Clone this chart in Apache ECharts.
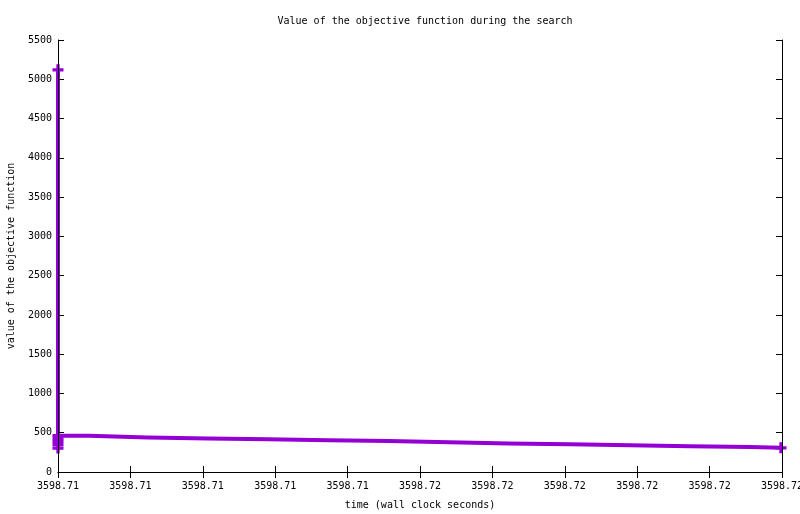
<!DOCTYPE html>
<html>
<head>
<meta charset="utf-8">
<script src="https://cdn.jsdelivr.net/npm/echarts@6/dist/echarts.min.js"></script>
<style>html,body{margin:0;padding:0;background:#fff}#c{width:800px;height:514px}</style>
</head>
<body>
<div id="c"></div>
<script>
// Step series: time (wall clock seconds) and objective value
var stepTimes = [3598.71250, 3598.71250, 3598.71250, 3598.712714, 3598.713122, 3598.713536, 3598.71395, 3598.714365,
                 3598.714786, 3598.7152, 3598.715615, 3598.716036, 3598.71645, 3598.716865, 3598.71728, 3598.717493];
var stepValues = [5120, 300, 462, 440, 428, 416, 404, 396, 379, 362, 352, 340, 327, 318, 308, 308];
// Marked points (plus symbols)
var pointTimes = [3598.71250, 3598.71250, 3598.71250, 3598.71250, 3598.71250, 3598.71250, 3598.717493];
var pointValues = [5120, 462, 425, 390, 350, 305, 308];
// Axes
var xMin = 3598.7125, xMax = 3598.7175, xInterval = 0.0005;
var xTickLabels = ['3598.71','3598.71','3598.71','3598.71','3598.71','3598.72','3598.72','3598.72','3598.72','3598.72','3598.72'];
var yMin = 0, yMax = 5500, yInterval = 500;
var titleText = 'Value of the objective function during the search';
var xName = 'time (wall clock seconds)';
var yName = 'value of the objective function';

var FONT = 'DejaVu Sans Mono';
var color = '#9400D3';
function xLabel(v) {
  var i = Math.round((v - xMin) / xInterval);
  return xTickLabels[i] !== undefined ? xTickLabels[i] : '';
}
function yLabel(v) { return String(Math.round(v)); }
var lineData = stepTimes.map(function (t, i) { return [t, stepValues[i]]; });
var ptData = pointTimes.map(function (t, i) { return [t, pointValues[i]]; });
var plus = 'path://M3.5,0H6.5V3.5H10V6.5H6.5V10H3.5V6.5H0V3.5H3.5Z';

var chart = echarts.init(document.getElementById('c'), null, {renderer: 'canvas'});
var axisCommon = {
  axisLine: {show: true, lineStyle: {color: '#000', width: 1}},
  axisTick: {show: true, inside: true, length: 6, lineStyle: {color: '#000', width: 1}},
  splitLine: {show: false}
};
chart.setOption({
  animation: false,
  backgroundColor: '#fff',
  title: {
    text: titleText, left: 420, top: 11, textAlign: 'center',
    textStyle: {fontFamily: FONT, fontSize: 10, fontWeight: 'normal', color: '#000'}
  },
  grid: {left: 58, right: 18, top: 40, bottom: 42, containLabel: false, outerBoundsMode: 'none'},
  xAxis: [
    Object.assign({
      type: 'value', min: xMin, max: xMax, interval: xInterval, position: 'bottom',
      name: xName, nameLocation: 'middle', nameGap: 28,
      nameTextStyle: {fontFamily: FONT, fontSize: 10, color: '#000'},
      axisLabel: {fontFamily: FONT, fontSize: 10, color: '#000', margin: 9, formatter: xLabel, showMaxLabel: true, showMinLabel: true, hideOverlap: false}
    }, axisCommon),
    Object.assign({
      type: 'value', min: xMin, max: xMax, interval: xInterval, position: 'top',
      axisLabel: {show: false}
    }, axisCommon)
  ],
  yAxis: [
    Object.assign({
      type: 'value', min: yMin, max: yMax, interval: yInterval, position: 'left', z: 5,
      name: yName, nameLocation: 'middle', nameGap: 42,
      nameTextStyle: {fontFamily: FONT, fontSize: 10, color: '#000'},
      axisLabel: {fontFamily: FONT, fontSize: 10, color: '#000', margin: 6, formatter: yLabel}
    }, axisCommon),
    Object.assign({
      type: 'value', min: yMin, max: yMax, interval: yInterval, position: 'right', z: 5,
      axisLabel: {show: false}
    }, axisCommon)
  ],
  series: [
    {
      type: 'line', step: 'end', data: lineData, showSymbol: false, symbol: 'none',
      lineStyle: {color: color, width: 4, cap: 'butt', join: 'miter'}, z: 2, clip: false
    },
    {
      type: 'scatter', data: ptData, symbol: plus, symbolSize: 11,
      itemStyle: {color: color, opacity: 1}, z: 3, clip: false
    }
  ]
});
</script>
</body>
</html>
